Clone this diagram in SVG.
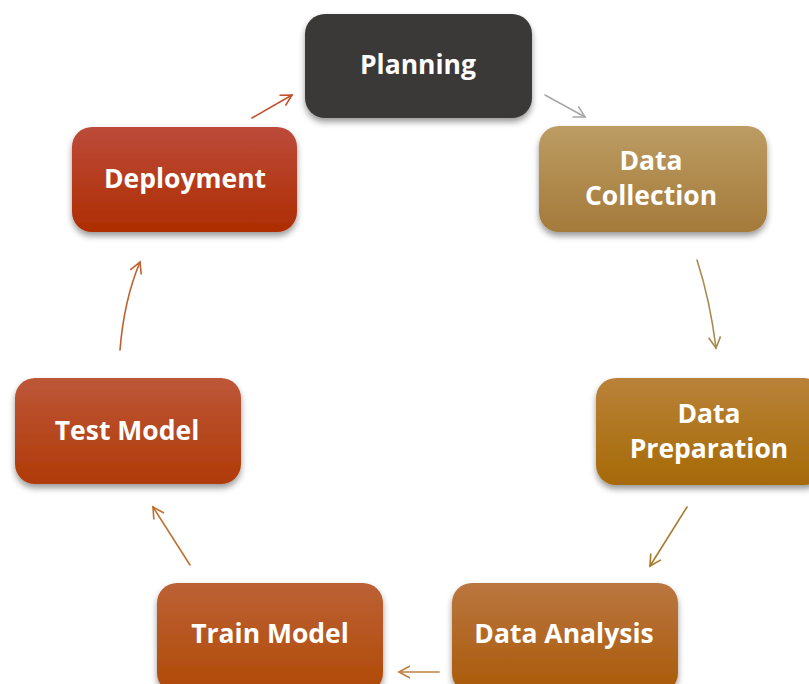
<svg xmlns="http://www.w3.org/2000/svg" width="809" height="684" viewBox="0 0 809 684">
<defs>
<style>
.lbl{font-family:"Open Sans","Liberation Sans",sans-serif;font-weight:700;font-size:26.5px;fill:#ffffff;text-anchor:middle;dominant-baseline:central}
.box{filter:url(#sh)}
.con{fill:none;stroke-width:1.6;stroke-linecap:round}
</style>
<filter id="sh" x="-10%" y="-10%" width="120%" height="130%">
<feDropShadow dx="0" dy="4" stdDeviation="3" flood-color="#000" flood-opacity="0.4"/>
</filter>
<linearGradient id="gColl" x1="0" y1="0" x2="0" y2="1"><stop offset="0" stop-color="#bc9c63"/><stop offset="1" stop-color="#a47a3a"/></linearGradient>
<linearGradient id="gPrep" x1="0" y1="0" x2="0" y2="1"><stop offset="0" stop-color="#b98239"/><stop offset="1" stop-color="#a66a06"/></linearGradient>
<linearGradient id="gAna" x1="0" y1="0" x2="0" y2="1"><stop offset="0" stop-color="#ba7640"/><stop offset="1" stop-color="#aa5a08"/></linearGradient>
<linearGradient id="gTrain" x1="0" y1="0" x2="0" y2="1"><stop offset="0" stop-color="#bc6136"/><stop offset="1" stop-color="#b04a05"/></linearGradient>
<linearGradient id="gTest" x1="0" y1="0" x2="0" y2="1"><stop offset="0" stop-color="#bd5738"/><stop offset="1" stop-color="#b03a08"/></linearGradient>
<linearGradient id="gDep" x1="0" y1="0" x2="0" y2="1"><stop offset="0" stop-color="#bc4b3a"/><stop offset="1" stop-color="#ae2d02"/></linearGradient>
<marker id="m1" viewBox="0 0 14 14" refX="12" refY="7" markerWidth="14" markerHeight="14" markerUnits="userSpaceOnUse" orient="auto"><path d="M1,1 L12,7 L1,13" fill="none" stroke="#a8a8a8" stroke-width="1.6"/></marker>
<marker id="m2" viewBox="0 0 14 14" refX="12" refY="7" markerWidth="14" markerHeight="14" markerUnits="userSpaceOnUse" orient="auto"><path d="M1,1 L12,7 L1,13" fill="none" stroke="#a88b52" stroke-width="1.6"/></marker>
<marker id="m3" viewBox="0 0 14 14" refX="12" refY="7" markerWidth="14" markerHeight="14" markerUnits="userSpaceOnUse" orient="auto"><path d="M1,1 L12,7 L1,13" fill="none" stroke="#a87a2e" stroke-width="1.6"/></marker>
<marker id="m4" viewBox="0 0 14 14" refX="12" refY="7" markerWidth="14" markerHeight="14" markerUnits="userSpaceOnUse" orient="auto"><path d="M1,1 L12,7 L1,13" fill="none" stroke="#c08040" stroke-width="1.6"/></marker>
<marker id="m5" viewBox="0 0 14 14" refX="12" refY="7" markerWidth="14" markerHeight="14" markerUnits="userSpaceOnUse" orient="auto"><path d="M1,1 L12,7 L1,13" fill="none" stroke="#c07030" stroke-width="1.6"/></marker>
<marker id="m6" viewBox="0 0 14 14" refX="12" refY="7" markerWidth="14" markerHeight="14" markerUnits="userSpaceOnUse" orient="auto"><path d="M1,1 L12,7 L1,13" fill="none" stroke="#c06030" stroke-width="1.6"/></marker>
<marker id="m7" viewBox="0 0 14 14" refX="12" refY="7" markerWidth="14" markerHeight="14" markerUnits="userSpaceOnUse" orient="auto"><path d="M1,1 L12,7 L1,13" fill="none" stroke="#c5502e" stroke-width="1.6"/></marker>
</defs>
<rect width="809" height="684" fill="#ffffff"/>
<g id="connectors">
<path class="con" d="M545,95 L585,117" stroke="#a8a8a8" marker-end="url(#m1)"/>
<path class="con" d="M697,260 Q710,300 716,348" stroke="#a88b52" marker-end="url(#m2)"/>
<path class="con" d="M687,507 L650,566" stroke="#a87a2e" marker-end="url(#m3)"/>
<path class="con" d="M439,672 L399,672" stroke="#c08040" marker-end="url(#m4)"/>
<path class="con" d="M190,565 L153,507" stroke="#c07030" marker-end="url(#m5)"/>
<path class="con" d="M120,350 Q124,300 140,262" stroke="#c06030" marker-end="url(#m6)"/>
<path class="con" d="M252,118 L292,95" stroke="#c5502e" marker-end="url(#m7)"/>
</g>
<g id="planning">
<rect class="box" x="305" y="14" width="227" height="104" rx="20" fill="#3b3837"/>
<text class="lbl" x="418" y="64">Planning</text>
</g>
<g id="data-collection">
<rect class="box" x="539" y="126" width="228" height="106" rx="20" fill="url(#gColl)"/>
<text class="lbl" x="651" y="160">Data</text>
<text class="lbl" x="651" y="195">Collection</text>
</g>
<g id="data-preparation">
<rect class="box" x="596" y="378" width="228" height="107" rx="20" fill="url(#gPrep)"/>
<text class="lbl" x="709" y="413">Data</text>
<text class="lbl" x="709" y="448">Preparation</text>
</g>
<g id="data-analysis">
<rect class="box" x="452" y="583" width="226" height="110" rx="20" fill="url(#gAna)"/>
<text class="lbl" x="564" y="633">Data Analysis</text>
</g>
<g id="train-model">
<rect class="box" x="157" y="583" width="226" height="110" rx="20" fill="url(#gTrain)"/>
<text class="lbl" x="270" y="633">Train Model</text>
</g>
<g id="test-model">
<rect class="box" x="15" y="378" width="226" height="106" rx="20" fill="url(#gTest)"/>
<text class="lbl" x="127" y="430">Test Model</text>
</g>
<g id="deployment">
<rect class="box" x="72" y="127" width="225" height="105" rx="20" fill="url(#gDep)"/>
<text class="lbl" x="185" y="178">Deployment</text>
</g>
</svg>
